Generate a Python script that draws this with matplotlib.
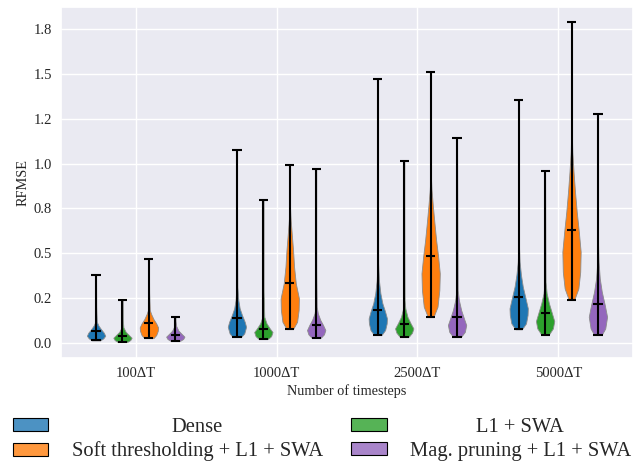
import numpy as np
import matplotlib
matplotlib.use("Agg")
import matplotlib.pyplot as plt
import seaborn as sns
from matplotlib.patches import Patch
from matplotlib.colors import to_rgba
from matplotlib.ticker import MultipleLocator, FormatStrFormatter

sns.set_theme(style="darkgrid")
plt.rcParams['font.family'] = ['Liberation Serif', 'DejaVu Serif']

timesteps = ["100ΔT", "1000ΔT", "2500ΔT", "5000ΔT"]
methods = ["Dense", "L1 + SWA", "Soft thresholding + L1 + SWA", "Mag. pruning + L1 + SWA"]
colors = ["#1f77b4", "#2ca02c", "#ff7f0e", "#9467bd"]

# violin outlines: RFMSE levels (first = min, last = max)
# and relative half-widths of the density at those levels
dense_y = [[0.013, 0.025, 0.039, 0.056, 0.075, 0.097, 0.117, 0.20, 0.378],
           [0.032, 0.052, 0.089, 0.117, 0.155, 0.192, 0.238, 0.313, 0.60, 1.075],
           [0.043, 0.071, 0.108, 0.136, 0.173, 0.22, 0.276, 0.35, 0.443, 1.473],
           [0.075, 0.108, 0.155, 0.192, 0.248, 0.313, 0.378, 0.452, 0.545, 1.356]]
dense_w = [[0.45, 0.8, 1.0, 0.85, 0.55, 0.25, 0.08, 0.02, 0.0],
           [0.45, 0.8, 1.0, 0.85, 0.55, 0.3, 0.15, 0.05, 0.015, 0.0],
           [0.4, 0.8, 0.97, 1.0, 0.8, 0.5, 0.28, 0.12, 0.04, 0.0],
           [0.35, 0.8, 0.97, 1.0, 0.75, 0.45, 0.25, 0.1, 0.03, 0.0]]
l1_y = [[0.004, 0.015, 0.028, 0.043, 0.061, 0.086, 0.13, 0.238],
        [0.021, 0.037, 0.06, 0.08, 0.108, 0.145, 0.30, 0.796],
        [0.034, 0.056, 0.080, 0.108, 0.145, 0.192, 0.238, 1.016],
        [0.045, 0.080, 0.121, 0.164, 0.22, 0.276, 0.34, 0.958]]
l1_w = [[0.5, 0.85, 1.0, 0.7, 0.35, 0.1, 0.03, 0.0],
        [0.5, 0.85, 1.0, 0.7, 0.35, 0.1, 0.02, 0.0],
        [0.5, 0.85, 1.0, 0.7, 0.35, 0.12, 0.04, 0.0],
        [0.4, 0.85, 1.0, 0.75, 0.42, 0.17, 0.05, 0.0]]
soft_y = [[0.026, 0.043, 0.067, 0.086, 0.108, 0.132, 0.16, 0.182, 0.28, 0.469],
          [0.076, 0.117, 0.183, 0.248, 0.331, 0.424, 0.517, 0.592, 0.685, 0.759, 0.993],
          [0.143, 0.201, 0.294, 0.387, 0.48, 0.573, 0.666, 0.759, 0.852, 0.926, 1.511],
          [0.24, 0.303, 0.396, 0.508, 0.619, 0.731, 0.843, 0.954, 1.066, 1.177, 1.788]]
soft_w = [[0.5, 0.8, 0.97, 1.0, 0.8, 0.5, 0.25, 0.1, 0.03, 0.0],
          [0.35, 0.8, 0.97, 1.0, 0.66, 0.47, 0.36, 0.24, 0.1, 0.03, 0.0],
          [0.3, 0.75, 0.95, 1.0, 0.82, 0.6, 0.42, 0.25, 0.1, 0.03, 0.0],
          [0.3, 0.75, 0.95, 1.0, 0.8, 0.57, 0.38, 0.22, 0.09, 0.03, 0.0]]
mag_y = [[0.010, 0.021, 0.034, 0.049, 0.067, 0.093, 0.12, 0.145],
         [0.028, 0.047, 0.071, 0.099, 0.127, 0.164, 0.201, 0.40, 0.968],
         [0.034, 0.061, 0.099, 0.136, 0.182, 0.238, 0.294, 1.142],
         [0.043, 0.080, 0.145, 0.21, 0.285, 0.359, 0.452, 0.545, 1.278]]
mag_w = [[0.5, 0.85, 1.0, 0.7, 0.35, 0.1, 0.03, 0.0],
         [0.5, 0.85, 1.0, 0.75, 0.45, 0.18, 0.06, 0.015, 0.0],
         [0.45, 0.85, 1.0, 0.75, 0.45, 0.2, 0.07, 0.0],
         [0.4, 0.8, 1.0, 0.75, 0.42, 0.2, 0.07, 0.02, 0.0]]

# middle line of each violin
dense_mean = [0.064, 0.136, 0.184, 0.255]
l1_mean = [0.037, 0.078, 0.104, 0.164]
soft_mean = [0.112, 0.331, 0.486, 0.627]
mag_mean = [0.043, 0.099, 0.145, 0.214]

all_y = [dense_y, l1_y, soft_y, mag_y]
all_w = [dense_w, l1_w, soft_w, mag_w]
all_mean = [dense_mean, l1_mean, soft_mean, mag_mean]

fig = plt.figure(figsize=(6.43, 4.61), dpi=100)
ax = fig.add_axes([0.0949, 0.2234, 0.8895, 0.7614])

step = 0.1875
for j in range(4):
    stats = []
    for i in range(4):
        ys = all_y[j][i]
        stats.append(dict(coords=ys, vals=all_w[j][i], mean=all_mean[j][i],
                          median=all_mean[j][i], min=ys[0], max=ys[-1]))
    pos = [i + (j - 1.5) * step for i in range(4)]
    parts = ax.violin(stats, positions=pos, widths=0.13, showmeans=True)
    for b in parts['bodies']:
        b.set_facecolor(colors[j])
        b.set_edgecolor('0.55')
        b.set_linewidth(0.6)
        b.set_alpha(1)
    for key in ['cmaxes', 'cmins', 'cbars', 'cmeans']:
        parts[key].set_color('black')
        parts[key].set_linewidth(1.5)

ax.set_xlim(-0.53, 3.53)
ax.set_ylim(-0.085, 1.873)
ax.set_xticks(range(4))
ax.set_xticklabels(timesteps, fontsize=10.5)
ax.yaxis.set_major_locator(MultipleLocator(0.25))
ax.yaxis.set_major_formatter(FormatStrFormatter('%.1f'))
ax.tick_params(axis='y', labelsize=10.5, length=0, pad=6.5)
ax.tick_params(axis='x', length=0, pad=6.3)
ax.set_xlabel("Number of timesteps", fontsize=10.3, labelpad=3)
ax.set_ylabel("RFMSE", fontsize=10.3, labelpad=3)

# legend: column-major order gives Dense / Soft in the first column
order = [0, 2, 1, 3]
handles = [Patch(facecolor=to_rgba(colors[k], 0.8), edgecolor='black', linewidth=0.8) for k in order]
labels = [methods[k] for k in order]
leg = fig.legend(handles, labels, ncol=2, loc='upper left',
                 bbox_to_anchor=(12.5 / 643, 1 - 418 / 461), frameon=False,
                 fontsize=14.8, handlelength=1.75, handleheight=0.6,
                 handletextpad=1.13, columnspacing=1.35,
                 labelspacing=0.22, borderpad=0, borderaxespad=0)

# centre the labels within each legend column
fig.canvas.draw()
renderer = fig.canvas.get_renderer()
texts = leg.get_texts()
for col in [texts[:2], texts[2:]]:
    ws = [t.get_window_extent(renderer).width for t in col]
    W = max(ws)
    for t, w in zip(col, ws):
        t.set_position(((W - w) / 2, 0))

plt.savefig("out.png", dpi=100)
